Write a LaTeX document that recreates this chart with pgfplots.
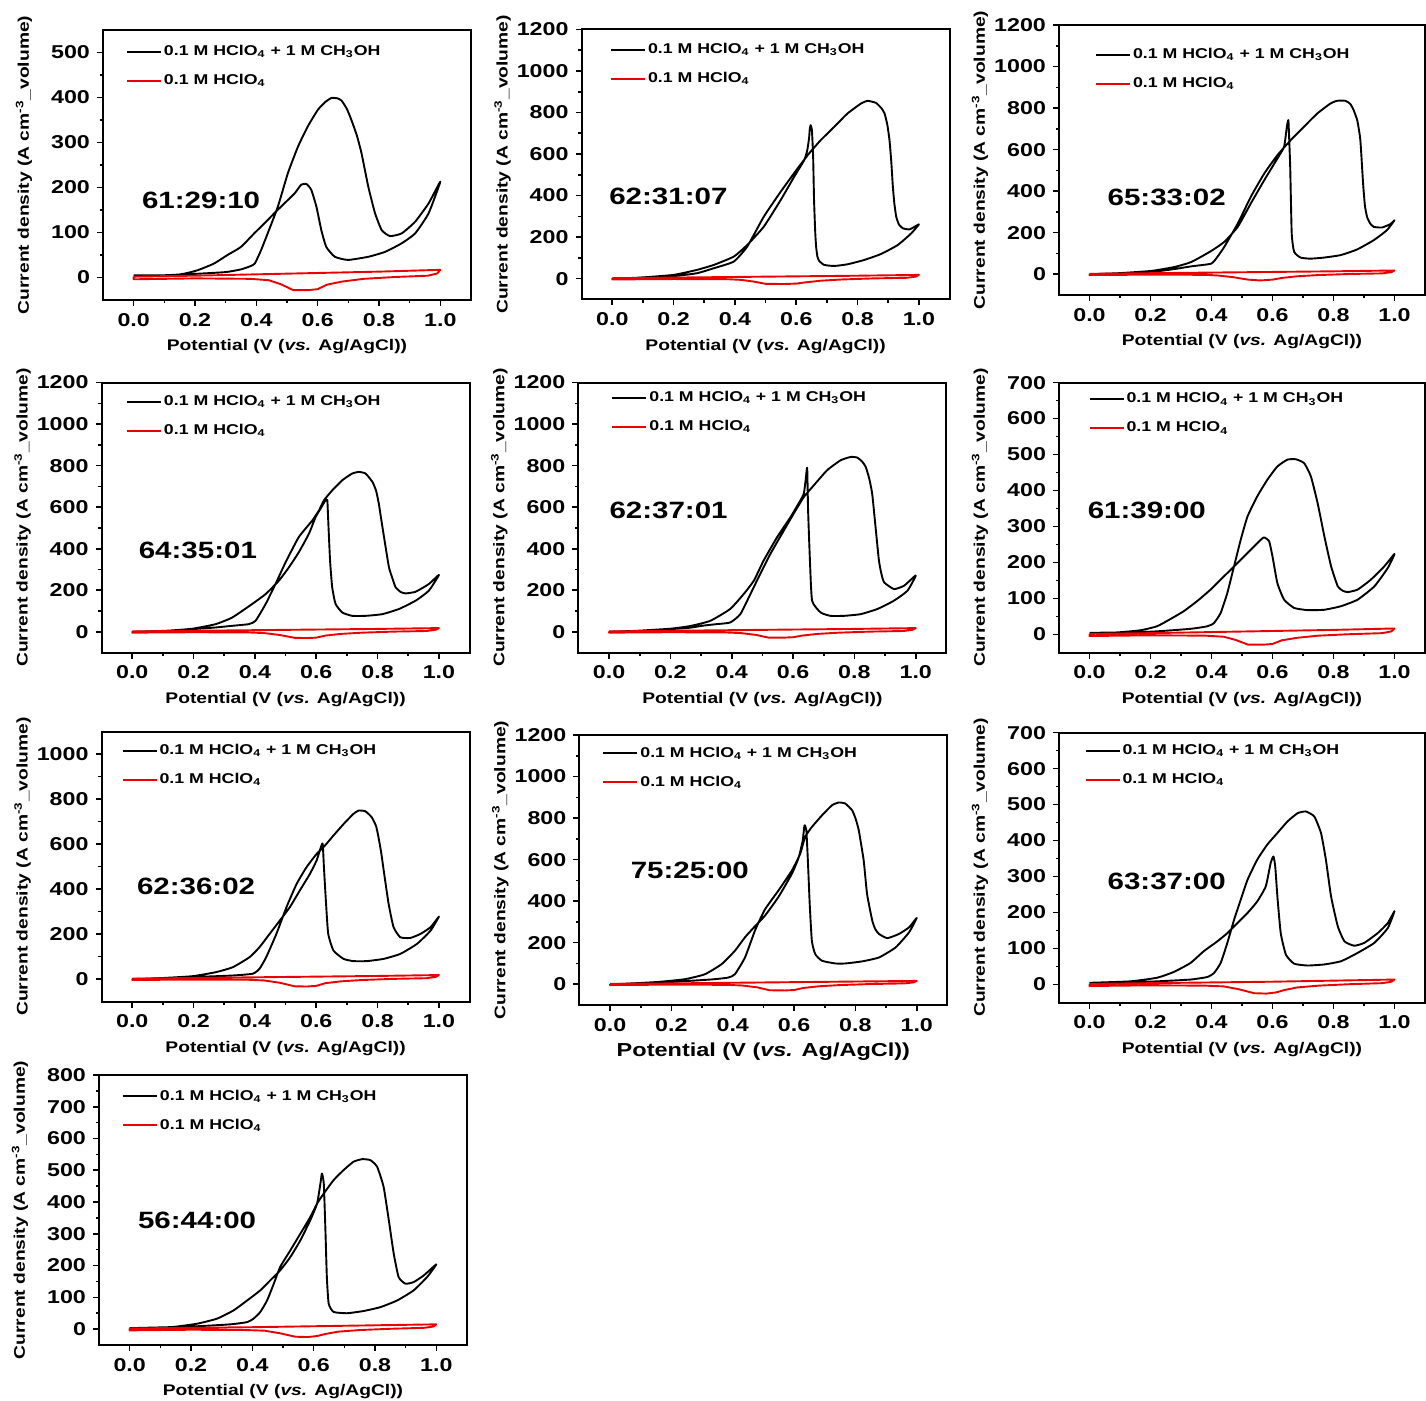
\documentclass[border=0pt]{standalone}
\usepackage{fontspec}
\setmainfont{Liberation Sans}[FakeStretch=1.25]
\usepackage{pgfplots}
\pgfplotsset{compat=1.18}

\newcommand{\tickfont}{\fontsize{9.3}{10}\selectfont\bfseries}
\newcommand{\labfont}{\fontsize{7.7}{9}\selectfont\bfseries}
\newcommand{\biglabfont}{\fontsize{9.4}{11}\selectfont\bfseries}
\newcommand{\legfont}{\fontsize{7.1}{8}\selectfont\bfseries}
\newcommand{\panfont}{\fontsize{11.8}{13}\selectfont\bfseries}
\newcommand{\legA}{0.1 M HClO\textsubscript{4} + 1 M CH\textsubscript{3}OH}
\newcommand{\legB}{0.1 M HClO\textsubscript{4}}

\pgfplotsset{
  cv/.style={
    scale only axis, width=184pt, height=135pt,
    anchor=north west,
    xmin=-0.1, xmax=1.1,
    xtick={0,0.2,0.4,0.6,0.8,1.0},
    minor x tick num=1, minor y tick num=1,
    tick align=outside,
    xtick pos=left, ytick pos=left,
    major tick length=3pt, minor tick length=1.6pt,
    every tick/.style={black, line width=0.8pt},
    axis line style={line width=1pt},
    /pgf/number format/assume math mode=true,
    /pgf/number format/1000 sep={},
    scaled ticks=false,
    xticklabel style={font=\tickfont, /pgf/number format/.cd, fixed, fixed zerofill, precision=1},
    yticklabel style={font=\tickfont},
    every axis x label/.style={at={(axis description cs:0.5,0)}, yshift=-23.5pt, anchor=center, font=\labfont},
    every axis y label/.style={at={(axis description cs:0,0.5)}, xshift=-39.5pt, rotate=90, anchor=center, font=\labfont},
    xlabel={Potential (V (\textit{vs.} Ag/AgCl))},
    ylabel={Current density (A cm\textsuperscript{-3}\_volume)},
    legend cell align=left,
    legend image code/.code={\draw[##1, line width=1pt] (0pt,0pt) -- (17pt,0pt);},
    legend style={draw=none, fill=none, font=\legfont, inner sep=0pt, outer sep=0pt,
      row sep=8pt, nodes={inner xsep=1pt, inner ysep=0pt, text height=5.2pt, text depth=1.3pt},
      at={(axis description cs:0,1)}, anchor=west},
  },
  lg/.style 2 args={legend style={xshift=#1, yshift=#2}},
  blk/.style={black, line width=0.95pt, line join=round, smooth, tension=0.3},
  rd/.style={red!92!black, line width=0.95pt, line join=round},
}

\begin{document}
\begin{tikzpicture}
\useasboundingbox (0,0) rectangle (713pt,-700.5pt);

% ---------- A 61:29:10
\begin{axis}[cv, at={(51.5pt,-15pt)}, ymin=-50, ymax=550, ytick={0,100,...,500}, lg={11.5pt}{-18.2pt}]
\addplot[blk] coordinates {(0.00,5) (0.10,5) (0.20,8) (0.30,12) (0.35,18) (0.38,25) (0.395,31) (0.415,60) (0.437,98) (0.47,157) (0.503,232) (0.536,291) (0.568,336) (0.601,373) (0.625,390) (0.645,399) (0.665,398) (0.678,393) (0.695,375) (0.71,350) (0.728,315) (0.743,276) (0.765,202) (0.787,143) (0.809,105) (0.836,92) (0.874,98) (0.918,124) (0.962,165) (1.0,213)
(0.962,143) (0.918,98) (0.874,76) (0.82,57) (0.765,46) (0.699,39) (0.656,46) (0.628,68) (0.612,105) (0.596,157) (0.579,195) (0.563,208) (0.546,206) (0.525,187) (0.492,165) (0.459,143) (0.426,120) (0.393,98) (0.35,68) (0.306,50) (0.262,31) (0.208,16) (0.153,7) (0.055,3) (0.0,3)};
\addlegendentry{\legA}
\addplot[rd] coordinates {(0,2) (0.2,4) (0.4,7) (0.6,10) (0.8,13) (1.0,17) (0.99,9) (0.96,4) (0.85,1) (0.75,-3) (0.68,-9) (0.63,-16) (0.6,-26) (0.57,-28) (0.52,-28) (0.48,-15) (0.44,-6) (0.38,-3) (0.2,-2) (0,-4) (0,2)};
\addlegendentry{\legB}
\node[font=\panfont] at (axis cs:0.22,171) {61:29:10};
\end{axis}

% ---------- B 62:31:07
\begin{axis}[cv, at={(290.8pt,-14.7pt)}, ymin=-100, ymax=1200, ytick={0,200,...,1200}, lg={14.2pt}{-17.4pt}]
\addplot[blk] coordinates {(0,0) (0.1,4) (0.2,12) (0.276,26) (0.331,50) (0.396,82) (0.44,154) (0.494,298) (0.549,418) (0.604,530) (0.642,603) (0.68,667) (0.724,731) (0.767,795) (0.811,843) (0.833,856) (0.86,846) (0.878,820) (0.888,795) (0.897,740) (0.904,667) (0.91,560) (0.915,442) (0.92,360) (0.926,298) (0.935,260) (0.948,242) (0.969,237) (0.986,250) (1.0,261)
(0.975,218) (0.931,162) (0.877,119) (0.822,90) (0.767,69) (0.724,61) (0.691,66) (0.675,85) (0.669,106) (0.665,150) (0.662,218) (0.658,378) (0.655,587) (0.651,715) (0.647,739) (0.644,720) (0.642,680) (0.636,619) (0.626,571) (0.593,490) (0.549,378) (0.494,250) (0.44,162) (0.396,106) (0.331,66) (0.276,42) (0.2,18) (0.09,5) (0,0)};
\addlegendentry{\legA}
\addplot[rd] coordinates {(0,2) (0.2,5) (0.4,8) (0.6,11) (0.8,14) (1.0,18) (0.99,10) (0.96,4) (0.85,1) (0.75,-4) (0.68,-10) (0.63,-18) (0.6,-24) (0.56,-26) (0.5,-25) (0.46,-14) (0.42,-6) (0.38,-3) (0.2,-2) (0,-4) (0,2)};
\addlegendentry{\legB}
\node[font=\panfont] at (axis cs:0.183,394) {62:31:07};
\end{axis}

% ---------- C 65:33:02
\begin{axis}[cv, width=183pt, at={(529.5pt,-12.5pt)}, ymin=-100, ymax=1200, ytick={0,200,...,1200}, lg={18pt}{-22.1pt}]
\addplot[blk] coordinates {(0,0) (0.1,3) (0.203,11) (0.279,25) (0.334,38) (0.399,51) (0.42,85) (0.442,132) (0.486,244) (0.529,373) (0.573,485) (0.616,573) (0.66,646) (0.703,710) (0.747,774) (0.79,822) (0.812,835) (0.839,835) (0.855,820) (0.866,790) (0.878,740) (0.888,646) (0.897,437) (0.903,330) (0.91,276) (0.92,245) (0.932,228) (0.959,225) (0.986,241) (1.0,260)
(0.975,212) (0.932,164) (0.877,119) (0.823,92) (0.768,80) (0.725,75) (0.692,80) (0.671,108) (0.663,196) (0.658,517) (0.654,678) (0.652,742) (0.647,710) (0.638,614) (0.616,557) (0.573,453) (0.529,341) (0.486,228) (0.442,156) (0.399,112) (0.334,59) (0.279,35) (0.203,16) (0.095,5) (0,0)};
\addlegendentry{\legA}
\addplot[rd] coordinates {(0,2) (0.2,5) (0.4,8) (0.6,11) (0.8,14) (1.0,18) (0.99,10) (0.96,4) (0.85,1) (0.75,-4) (0.68,-10) (0.63,-18) (0.6,-26) (0.56,-30) (0.52,-26) (0.47,-14) (0.42,-6) (0.38,-3) (0.2,-2) (0,-4) (0,2)};
\addlegendentry{\legB}
\node[font=\panfont] at (axis cs:0.253,370) {65:33:02};
\end{axis}

% ---------- D 64:35:01
\begin{axis}[cv, at={(50.8pt,-191.3pt)}, ymin=-100, ymax=1200, ytick={0,200,...,1200}, lg={12.2pt}{-16.8pt}]
\addplot[blk] coordinates {(0,0) (0.109,5) (0.196,13) (0.272,21) (0.326,29) (0.38,37) (0.402,53) (0.435,134) (0.467,230) (0.5,335) (0.543,456) (0.587,536) (0.609,585) (0.625,633) (0.652,681) (0.685,730) (0.717,762) (0.739,770) (0.761,762) (0.783,722) (0.795,680) (0.804,617) (0.812,540) (0.821,456) (0.837,311) (0.85,250) (0.859,214) (0.875,192) (0.891,185) (0.924,193) (0.967,230) (1.0,274)
(0.967,198) (0.924,150) (0.87,110) (0.815,85) (0.761,77) (0.717,77) (0.685,93) (0.663,134) (0.652,214) (0.645,343) (0.639,536) (0.636,633) (0.63,633) (0.614,593) (0.598,553) (0.576,472) (0.543,383) (0.511,311) (0.478,246) (0.435,182) (0.391,134) (0.326,69) (0.272,37) (0.196,15) (0.109,5) (0,0)};
\addlegendentry{\legA}
\addplot[rd] coordinates {(0,2) (0.2,5) (0.4,8) (0.6,11) (0.8,14) (1.0,18) (0.99,10) (0.96,4) (0.85,1) (0.75,-4) (0.68,-10) (0.63,-18) (0.6,-28) (0.57,-30) (0.53,-29) (0.48,-15) (0.43,-6) (0.38,-3) (0.2,-2) (0,-4) (0,2)};
\addlegendentry{\legB}
\node[font=\panfont] at (axis cs:0.214,391) {64:35:01};
\end{axis}

% ---------- E 62:37:01
\begin{axis}[cv, at={(289.2pt,-191.3pt)}, ymin=-100, ymax=1200, ytick={0,200,...,1200}, lg={16.5pt}{-14.9pt}]
\addplot[blk] coordinates {(0,0) (0.09,5) (0.2,13) (0.265,20) (0.308,30) (0.35,37) (0.395,45) (0.428,85) (0.461,182) (0.493,279) (0.526,375) (0.57,488) (0.602,569) (0.635,649) (0.668,706) (0.711,778) (0.755,826) (0.788,842) (0.809,839) (0.825,820) (0.837,794) (0.848,740) (0.858,665) (0.869,504) (0.88,343) (0.888,280) (0.897,238) (0.929,206) (0.962,222) (1.0,271)
(0.973,198) (0.929,150) (0.875,110) (0.82,85) (0.766,77) (0.722,77) (0.69,93) (0.662,150) (0.655,343) (0.649,585) (0.646,790) (0.641,730) (0.635,665) (0.624,633) (0.592,553) (0.548,456) (0.504,343) (0.472,246) (0.439,182) (0.395,110) (0.33,53) (0.265,28) (0.2,15) (0.09,5) (0,0)};
\addlegendentry{\legA}
\addplot[rd] coordinates {(0,2) (0.2,5) (0.4,8) (0.6,11) (0.8,14) (1.0,18) (0.99,10) (0.96,4) (0.85,1) (0.75,-4) (0.68,-10) (0.63,-18) (0.6,-26) (0.57,-28) (0.52,-28) (0.48,-15) (0.43,-6) (0.38,-3) (0.2,-2) (0,-4) (0,2)};
\addlegendentry{\legB}
\node[font=\panfont] at (axis cs:0.194,585) {62:37:01};
\end{axis}

% ---------- F 61:39:00
\begin{axis}[cv, width=183pt, at={(529.5pt,-191.3pt)}, ymin=-50, ymax=700, ytick={0,100,...,700}, lg={14.8pt}{-15.5pt}]
\addplot[blk] coordinates {(0,5) (0.112,5) (0.221,9) (0.331,16) (0.386,23) (0.408,32) (0.43,60) (0.452,116) (0.474,190) (0.496,264) (0.518,328) (0.55,384) (0.583,430) (0.616,467) (0.649,486) (0.677,487) (0.704,476) (0.726,439) (0.748,365) (0.77,273) (0.792,190) (0.814,134) (0.83,122) (0.846,118) (0.879,125) (0.923,153) (0.967,190) (1.0,224)
(0.978,185) (0.934,134) (0.879,97) (0.825,79) (0.77,69) (0.715,68) (0.671,74) (0.638,97) (0.616,143) (0.6,217) (0.589,259) (0.572,270) (0.556,259) (0.529,236) (0.496,208) (0.463,180) (0.43,153) (0.397,125) (0.353,93) (0.309,65) (0.265,43) (0.221,23) (0.167,12) (0.09,6) (0,5)};
\addlegendentry{\legA}
\addplot[rd] coordinates {(0,2) (0.2,4) (0.4,7) (0.6,10) (0.8,13) (1.0,17) (0.99,9) (0.96,4) (0.85,1) (0.75,-3) (0.68,-9) (0.63,-16) (0.6,-26) (0.57,-28) (0.52,-28) (0.48,-15) (0.44,-6) (0.38,-3) (0.2,-2) (0,-4) (0,2)};
\addlegendentry{\legB}
\node[font=\panfont] at (axis cs:0.188,345) {61:39:00};
\end{axis}

% ---------- G 62:36:02
\begin{axis}[cv, at={(50.8pt,-365.8pt)}, ymin=-100, ymax=1100, ytick={0,200,...,1000}, lg={10pt}{-16.9pt}]
\addplot[blk] coordinates {(0,0) (0.087,3) (0.197,9) (0.328,16) (0.393,24) (0.415,46) (0.437,98) (0.47,201) (0.503,320) (0.536,423) (0.568,497) (0.601,556) (0.628,593) (0.656,638) (0.689,689) (0.721,734) (0.738,749) (0.76,746) (0.781,719) (0.795,680) (0.803,630) (0.812,560) (0.82,482) (0.836,334) (0.852,231) (0.874,186) (0.907,183) (0.94,201) (0.973,231) (1.0,278)
(0.973,216) (0.929,157) (0.874,112) (0.82,90) (0.765,80) (0.721,80) (0.689,90) (0.656,127) (0.639,201) (0.632,334) (0.625,497) (0.621,601) (0.615,586) (0.601,527) (0.579,467) (0.546,393) (0.514,320) (0.481,260) (0.448,201) (0.415,142) (0.383,98) (0.328,53) (0.273,31) (0.197,13) (0.087,4) (0,0)};
\addlegendentry{\legA}
\addplot[rd] coordinates {(0,2) (0.2,5) (0.4,8) (0.6,11) (0.8,14) (1.0,18) (0.99,10) (0.96,4) (0.85,1) (0.75,-4) (0.68,-10) (0.63,-18) (0.6,-30) (0.57,-33) (0.53,-32) (0.48,-16) (0.43,-6) (0.38,-3) (0.2,-2) (0,-4) (0,2)};
\addlegendentry{\legB}
\node[font=\panfont] at (axis cs:0.208,411) {62:36:02};
\end{axis}

% ---------- H 75:25:00
\begin{axis}[cv, at={(289.7pt,-367.5pt)}, ymin=-100, ymax=1200, ytick={0,200,...,1200}, lg={11.5pt}{-16.4pt}, xlabel style={font=\biglabfont}]
\addplot[blk] coordinates {(0,0) (0.1,4) (0.2,11) (0.331,23) (0.385,32) (0.407,48) (0.44,129) (0.473,260) (0.505,360) (0.549,451) (0.593,548) (0.62,628) (0.636,709) (0.658,757) (0.691,813) (0.724,862) (0.746,875) (0.767,870) (0.789,838) (0.8,800) (0.811,741) (0.827,596) (0.838,435) (0.855,306) (0.865,265) (0.877,242) (0.904,222) (0.942,242) (0.975,274) (1.0,319)
(0.975,250) (0.931,177) (0.877,129) (0.822,110) (0.767,100) (0.735,100) (0.691,113) (0.669,145) (0.658,209) (0.651,387) (0.645,596) (0.64,741) (0.634,765) (0.628,690) (0.615,610) (0.593,532) (0.549,420) (0.505,330) (0.473,280) (0.44,226) (0.407,161) (0.364,97) (0.309,48) (0.243,24) (0.156,11) (0.058,3) (0,0)};
\addlegendentry{\legA}
\addplot[rd] coordinates {(0,2) (0.2,4) (0.4,7) (0.6,10) (0.8,13) (1.0,16) (0.99,9) (0.96,4) (0.85,1) (0.75,-4) (0.68,-10) (0.63,-18) (0.6,-28) (0.57,-30) (0.52,-29) (0.48,-15) (0.43,-6) (0.38,-3) (0.2,-2) (0,-4) (0,2)};
\addlegendentry{\legB}
\node[font=\panfont] at (axis cs:0.26,547) {75:25:00};
\end{axis}

% ---------- I 63:37:00
\begin{axis}[cv, width=183pt, at={(529.5pt,-366.3pt)}, ymin=-50, ymax=700, ytick={0,100,...,700}, lg={12.8pt}{-16.3pt}]
\addplot[blk] coordinates {(0,5) (0.1,5) (0.221,9) (0.331,14) (0.386,21) (0.408,32) (0.43,60) (0.452,116) (0.474,180) (0.496,236) (0.518,291) (0.55,347) (0.583,389) (0.616,421) (0.649,453) (0.682,476) (0.709,481) (0.737,467) (0.759,421) (0.775,347) (0.792,245) (0.814,162) (0.836,120) (0.868,108) (0.901,116) (0.945,143) (0.978,171) (1.0,204)
(0.978,157) (0.934,116) (0.879,88) (0.825,65) (0.77,56) (0.715,53) (0.671,58) (0.644,83) (0.627,143) (0.616,245) (0.609,328) (0.603,356) (0.594,338) (0.578,273) (0.55,231) (0.518,199) (0.485,171) (0.452,143) (0.419,120) (0.375,93) (0.331,60) (0.276,35) (0.221,19) (0.134,9) (0,5)};
\addlegendentry{\legA}
\addplot[rd] coordinates {(0,2) (0.2,4) (0.4,6) (0.6,8) (0.8,11) (1.0,14) (0.99,8) (0.96,4) (0.85,1) (0.75,-3) (0.68,-8) (0.64,-15) (0.61,-22) (0.58,-25) (0.54,-24) (0.49,-13) (0.44,-5) (0.38,-3) (0.2,-2) (0,-4) (0,2)};
\addlegendentry{\legB}
\node[font=\panfont] at (axis cs:0.253,287) {63:37:00};
\end{axis}

% ---------- J 56:44:00
\begin{axis}[cv, at={(49.5pt,-537.5pt)}, ymin=-50, ymax=800, ytick={0,100,...,800}, lg={11.5pt}{-17.9pt}]
\addplot[blk] coordinates {(0,3) (0.198,8) (0.328,15) (0.383,22) (0.404,33) (0.426,54) (0.448,90) (0.47,143) (0.491,196) (0.524,248) (0.557,301) (0.589,353) (0.611,395) (0.633,427) (0.665,469) (0.698,501) (0.73,527) (0.758,535) (0.785,532) (0.807,511) (0.828,448) (0.845,343) (0.861,238) (0.877,164) (0.899,143) (0.926,148) (0.959,169) (1.0,204)
(0.97,164) (0.926,122) (0.872,90) (0.817,69) (0.763,57) (0.709,50) (0.665,54) (0.649,80) (0.643,164) (0.638,322) (0.633,458) (0.627,490) (0.622,458) (0.611,395) (0.589,343) (0.557,280) (0.524,227) (0.491,185) (0.459,154) (0.426,122) (0.383,90) (0.339,59) (0.285,33) (0.22,17) (0.133,6) (0,3)};
\addlegendentry{\legA}
\addplot[rd] coordinates {(0,2) (0.2,4) (0.4,6) (0.6,9) (0.8,12) (1.0,15) (0.99,8) (0.96,4) (0.85,1) (0.75,-3) (0.68,-8) (0.64,-15) (0.61,-22) (0.58,-25) (0.54,-24) (0.49,-13) (0.44,-5) (0.38,-3) (0.2,-2) (0,-4) (0,2)};
\addlegendentry{\legB}
\node[font=\panfont] at (axis cs:0.22,343) {56:44:00};
\end{axis}

\end{tikzpicture}
\end{document}
